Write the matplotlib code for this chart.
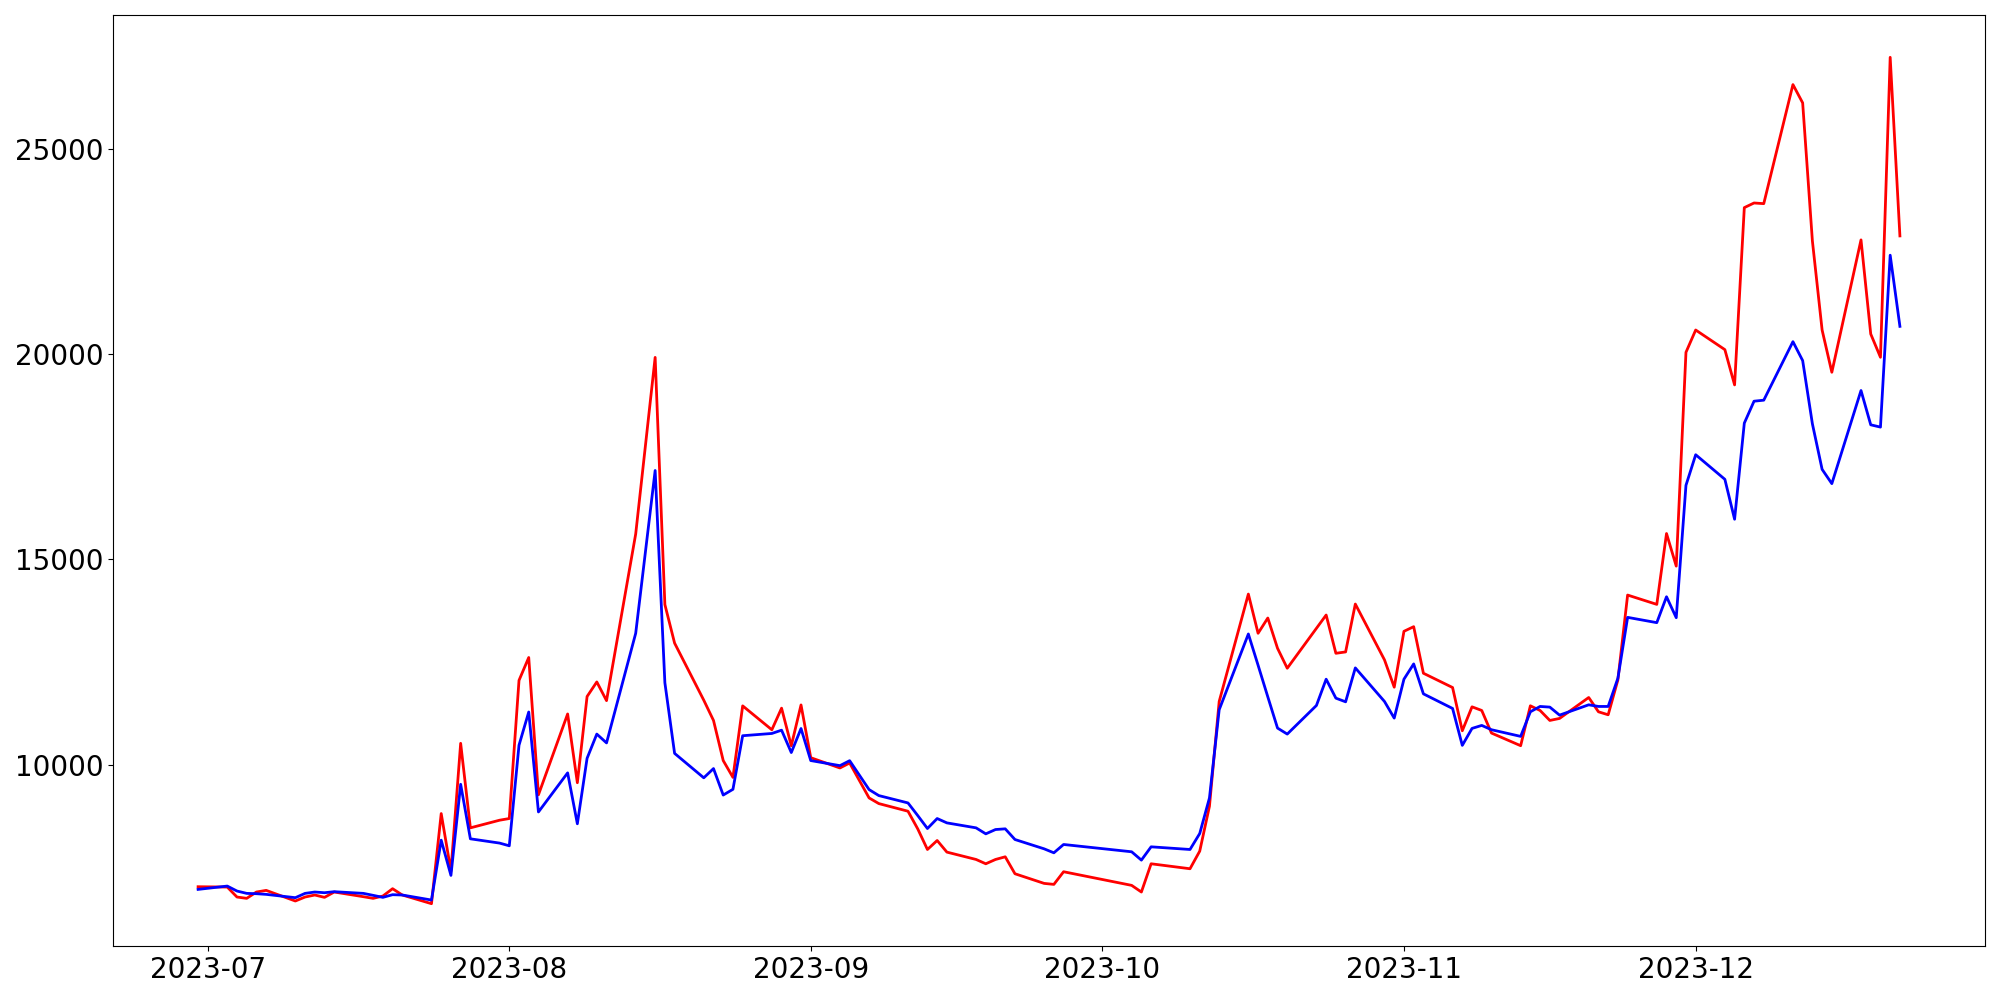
import matplotlib
matplotlib.use("Agg")
import matplotlib.pyplot as plt
import pandas as pd

# trading days (Korean calendar: Aug 15, Sep 28 - Oct 3, Oct 9 closed)
dates = [
    "2023-06-30",
    "2023-07-03", "2023-07-04", "2023-07-05", "2023-07-06", "2023-07-07",
    "2023-07-10", "2023-07-11", "2023-07-12", "2023-07-13", "2023-07-14",
    "2023-07-17", "2023-07-18", "2023-07-19", "2023-07-20", "2023-07-21",
    "2023-07-24", "2023-07-25", "2023-07-26", "2023-07-27", "2023-07-28",
    "2023-07-31", "2023-08-01", "2023-08-02", "2023-08-03", "2023-08-04",
    "2023-08-07", "2023-08-08", "2023-08-09", "2023-08-10", "2023-08-11",
    "2023-08-14", "2023-08-16", "2023-08-17", "2023-08-18",
    "2023-08-21", "2023-08-22", "2023-08-23", "2023-08-24", "2023-08-25",
    "2023-08-28", "2023-08-29", "2023-08-30", "2023-08-31", "2023-09-01",
    "2023-09-04", "2023-09-05", "2023-09-06", "2023-09-07", "2023-09-08",
    "2023-09-11", "2023-09-12", "2023-09-13", "2023-09-14", "2023-09-15",
    "2023-09-18", "2023-09-19", "2023-09-20", "2023-09-21", "2023-09-22",
    "2023-09-25", "2023-09-26", "2023-09-27",
    "2023-10-04", "2023-10-05", "2023-10-06",
    "2023-10-10", "2023-10-11", "2023-10-12", "2023-10-13",
    "2023-10-16", "2023-10-17", "2023-10-18", "2023-10-19", "2023-10-20",
    "2023-10-23", "2023-10-24", "2023-10-25", "2023-10-26", "2023-10-27",
    "2023-10-30", "2023-10-31", "2023-11-01", "2023-11-02", "2023-11-03",
    "2023-11-06", "2023-11-07", "2023-11-08", "2023-11-09", "2023-11-10",
    "2023-11-13", "2023-11-14", "2023-11-15", "2023-11-16", "2023-11-17",
    "2023-11-20", "2023-11-21", "2023-11-22", "2023-11-23", "2023-11-24",
    "2023-11-27", "2023-11-28", "2023-11-29", "2023-11-30", "2023-12-01",
    "2023-12-04", "2023-12-05", "2023-12-06", "2023-12-07", "2023-12-08",
    "2023-12-11", "2023-12-12", "2023-12-13", "2023-12-14", "2023-12-15",
    "2023-12-18", "2023-12-19", "2023-12-20", "2023-12-21", "2023-12-22",
]

red_vals = [
    7027,
    7019, 6776, 6744, 6898, 6938,
    6679, 6776, 6825, 6768, 6898,
    6784, 6744, 6800, 6979, 6825,
    6614, 8809, 7408, 10520, 8461,
    8647, 8688, 12053, 12610, 9266,
    11235, 9560, 11660, 12015, 11560,
    15620, 19920, 13900, 12960,
    11570, 11077, 10100, 9690, 11432,
    10850, 11376, 10460, 11455, 10170,
    9919, 10041, 9615, 9190, 9052,
    8866, 8437, 7934, 8153, 7870,
    7691, 7586, 7691, 7756, 7343,
    7108, 7084, 7392,
    7060, 6898, 7586,
    7465, 7894, 8988, 11539,
    14155, 13200, 13572, 12835, 12349,
    13321, 13645, 12713, 12746, 13912,
    12552, 11887, 13248, 13361, 12227,
    11879, 10826, 11409, 11320, 10770,
    10462, 11434, 11320, 11077, 11126,
    11636, 11288, 11215, 12066, 14131,
    13904, 15630, 14836, 20044, 20587,
    20109, 19250, 23568, 23681, 23665,
    26565, 26119, 22758, 20587, 19558,
    22782, 20490, 19923, 27229, 22879,
]

blue_vals = [
    6962,
    7043, 6922, 6865, 6857, 6841,
    6760, 6865, 6898, 6881, 6906,
    6865, 6817, 6768, 6833, 6825,
    6703, 8161, 7303, 9522, 8194,
    8090, 8024, 10474, 11283, 8848,
    9800, 8560, 10155, 10745, 10530,
    13200, 17165, 11995, 10275,
    9680, 9905, 9260, 9400, 10705,
    10760, 10840, 10295, 10880, 10100,
    9976, 10097, 9745, 9393, 9247,
    9068, 8761, 8445, 8688, 8582,
    8461, 8315, 8420, 8437, 8177,
    7950, 7853, 8056,
    7878, 7675, 7999,
    7934, 8323, 9190, 11337,
    13183, 12422, 11652, 10891, 10745,
    11442, 12082, 11620, 11531, 12357,
    11539, 11134, 12082, 12454, 11725,
    11369, 10470, 10883, 10956, 10851,
    10689, 11288, 11418, 11402, 11207,
    11458, 11418, 11418, 12106, 13588,
    13459, 14090, 13580, 16804, 17549,
    16950, 15978, 18319, 18853, 18878,
    20303, 19842, 18303, 17193, 16845,
    19113, 18278, 18222, 22409, 20676,
]

x = pd.to_datetime(dates)

fig, ax = plt.subplots(figsize=(20, 10), dpi=100)
ax.plot(x, red_vals, color="red", linewidth=2)
ax.plot(x, blue_vals, color="blue", linewidth=2)

ax.tick_params(axis="both", labelsize=20)

fig.subplots_adjust(left=0.0565, right=0.9925, bottom=0.054, top=0.985)
fig.savefig("out.png")
